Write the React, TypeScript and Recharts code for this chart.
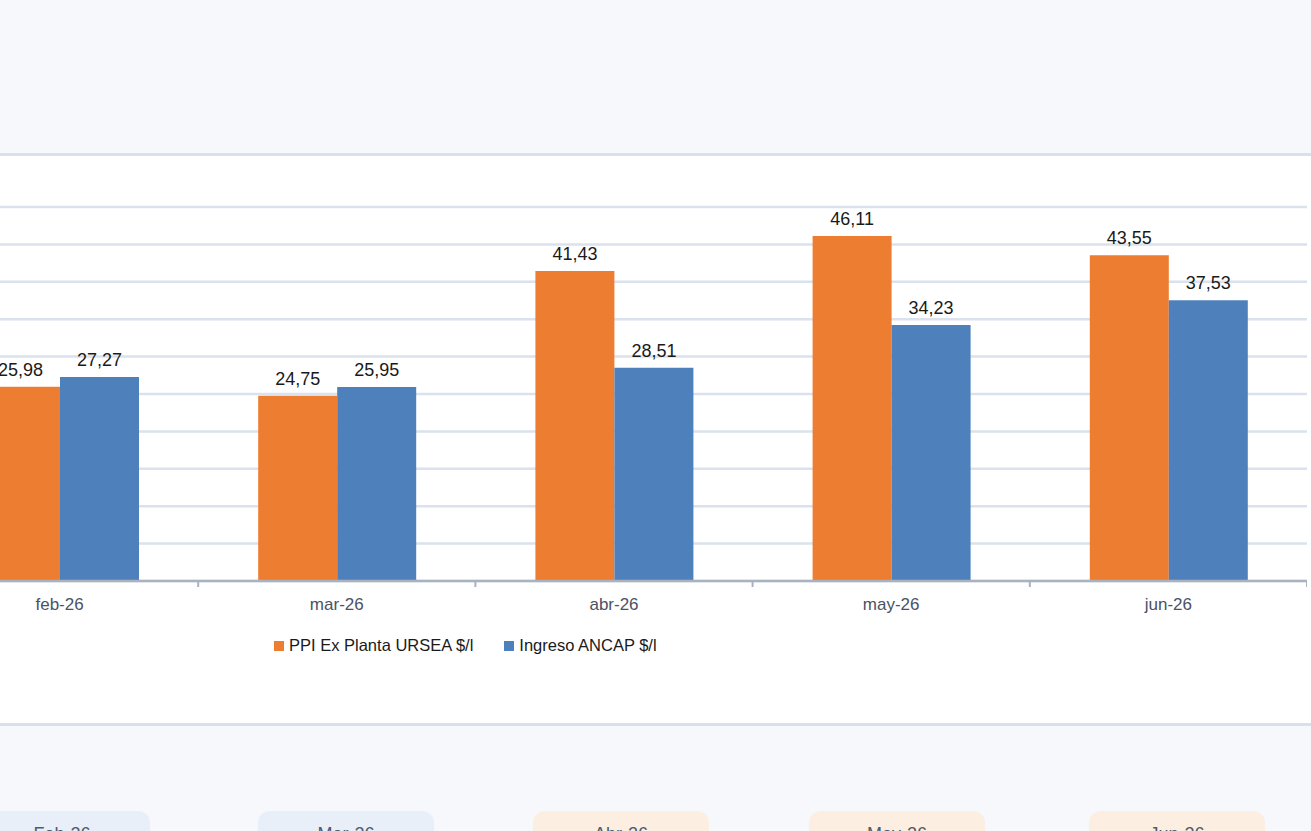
import { BarChart, Bar, XAxis, YAxis, CartesianGrid, LabelList } from 'recharts';

const months = ['feb-26', 'mar-26', 'abr-26', 'may-26', 'jun-26'];
const ppiUrsea = [25.98, 24.75, 41.43, 46.11, 43.55];
const ingresoAncap = [27.27, 25.95, 28.51, 34.23, 37.53];
const yTicks = [0, 5, 10, 15, 20, 25, 30, 35, 40, 45, 50];
const cardLabels = ['Feb-26', 'Mar-26', 'Abr-26', 'May-26', 'Jun-26'];
const cardTones = ['blue', 'blue', 'peach', 'peach', 'peach'];
const cardLeft = [-26, 258, 533, 809, 1089];

const SERIES_PPI = 'PPI Ex Planta URSEA $/l';
const SERIES_ANCAP = 'Ingreso ANCAP $/l';
const ORANGE = '#ed7d31';
const BLUE = '#4e80bc';
const FONT = '"Liberation Sans", Arial, sans-serif';

const CHART_W = 1386;
const BAND = CHART_W / months.length;

const data = months.map((m, i) => ({
  name: m,
  ppi: ppiUrsea[i],
  ancap: ingresoAncap[i],
}));

const fmt = (v: any) => Number(v).toFixed(2).replace('.', ',');

function MonthTick(props: any) {
  const { x, y, payload } = props;
  return (
    <g>
      <line x1={x + BAND / 2} x2={x + BAND / 2} y1={y} y2={y + 6} stroke="#aab2bf" strokeWidth={2} />
      <text x={x} y={y + 29} textAnchor="middle" fill="#4a5264" fontSize={17} fontFamily={FONT}>
        {payload.value}
      </text>
    </g>
  );
}

export default function App() {
  return (
    <div
      style={{
        position: 'fixed', left: 0, top: 0, width: 1311, height: 831,
        overflow: 'hidden', background: '#f6f8fb', fontFamily: FONT,
      }}
    >
      <div
        style={{
          position: 'absolute', left: -10, top: 153, width: 1340, height: 567,
          background: '#ffffff', borderTop: '3px solid #d8e0ea', borderBottom: '3px solid #d8e0ea',
        }}
      />
      <div style={{ position: 'absolute', left: -79, top: 150 }}>
        <BarChart
          width={CHART_W}
          height={470}
          data={data}
          margin={{ top: 57, right: 0, left: 0, bottom: 0 }}
          barGap={0}
          barSize={79}
        >
          <CartesianGrid vertical={false} stroke="#dae2ed" strokeWidth={2.5} />
          <YAxis hide domain={[0, 50]} ticks={yTicks} />
          <XAxis
            dataKey="name"
            height={39}
            axisLine={{ stroke: '#aab2bf', strokeWidth: 2.5 }}
            tickLine={false}
            tickSize={0}
            tickMargin={0}
            tick={<MonthTick />}
            interval={0}
          />
          <Bar dataKey="ppi" name={SERIES_PPI} fill={ORANGE} isAnimationActive={false}>
            <LabelList dataKey="ppi" position="top" offset={11} formatter={fmt} fill="#1a1a1a" fontSize={18} fontFamily={FONT} />
          </Bar>
          <Bar dataKey="ancap" name={SERIES_ANCAP} fill={BLUE} isAnimationActive={false}>
            <LabelList dataKey="ancap" position="top" offset={11} formatter={fmt} fill="#1a1a1a" fontSize={18} fontFamily={FONT} />
          </Bar>
        </BarChart>
      </div>

      <div style={{ position: 'absolute', left: 274, top: 636, display: 'flex', alignItems: 'center', fontSize: 16.5, color: '#1a1a1a' }}>
        <span style={{ width: 10, height: 10, background: ORANGE, display: 'inline-block', marginRight: 5 }} />
        <span>{SERIES_PPI}</span>
        <span style={{ width: 10, height: 10, background: BLUE, display: 'inline-block', marginLeft: 31, marginRight: 5 }} />
        <span>{SERIES_ANCAP}</span>
      </div>

      {cardLabels.map((label, i) => (
        <div
          key={label}
          style={{
            position: 'absolute', left: cardLeft[i], top: 811, width: 176, height: 60,
            borderRadius: 12, background: cardTones[i] === 'blue' ? '#e8eff8' : '#fcefe2',
            textAlign: 'center', paddingTop: 13, boxSizing: 'border-box',
            fontSize: 18, color: '#505a6b',
          }}
        >
          {label}
        </div>
      ))}
    </div>
  );
}
